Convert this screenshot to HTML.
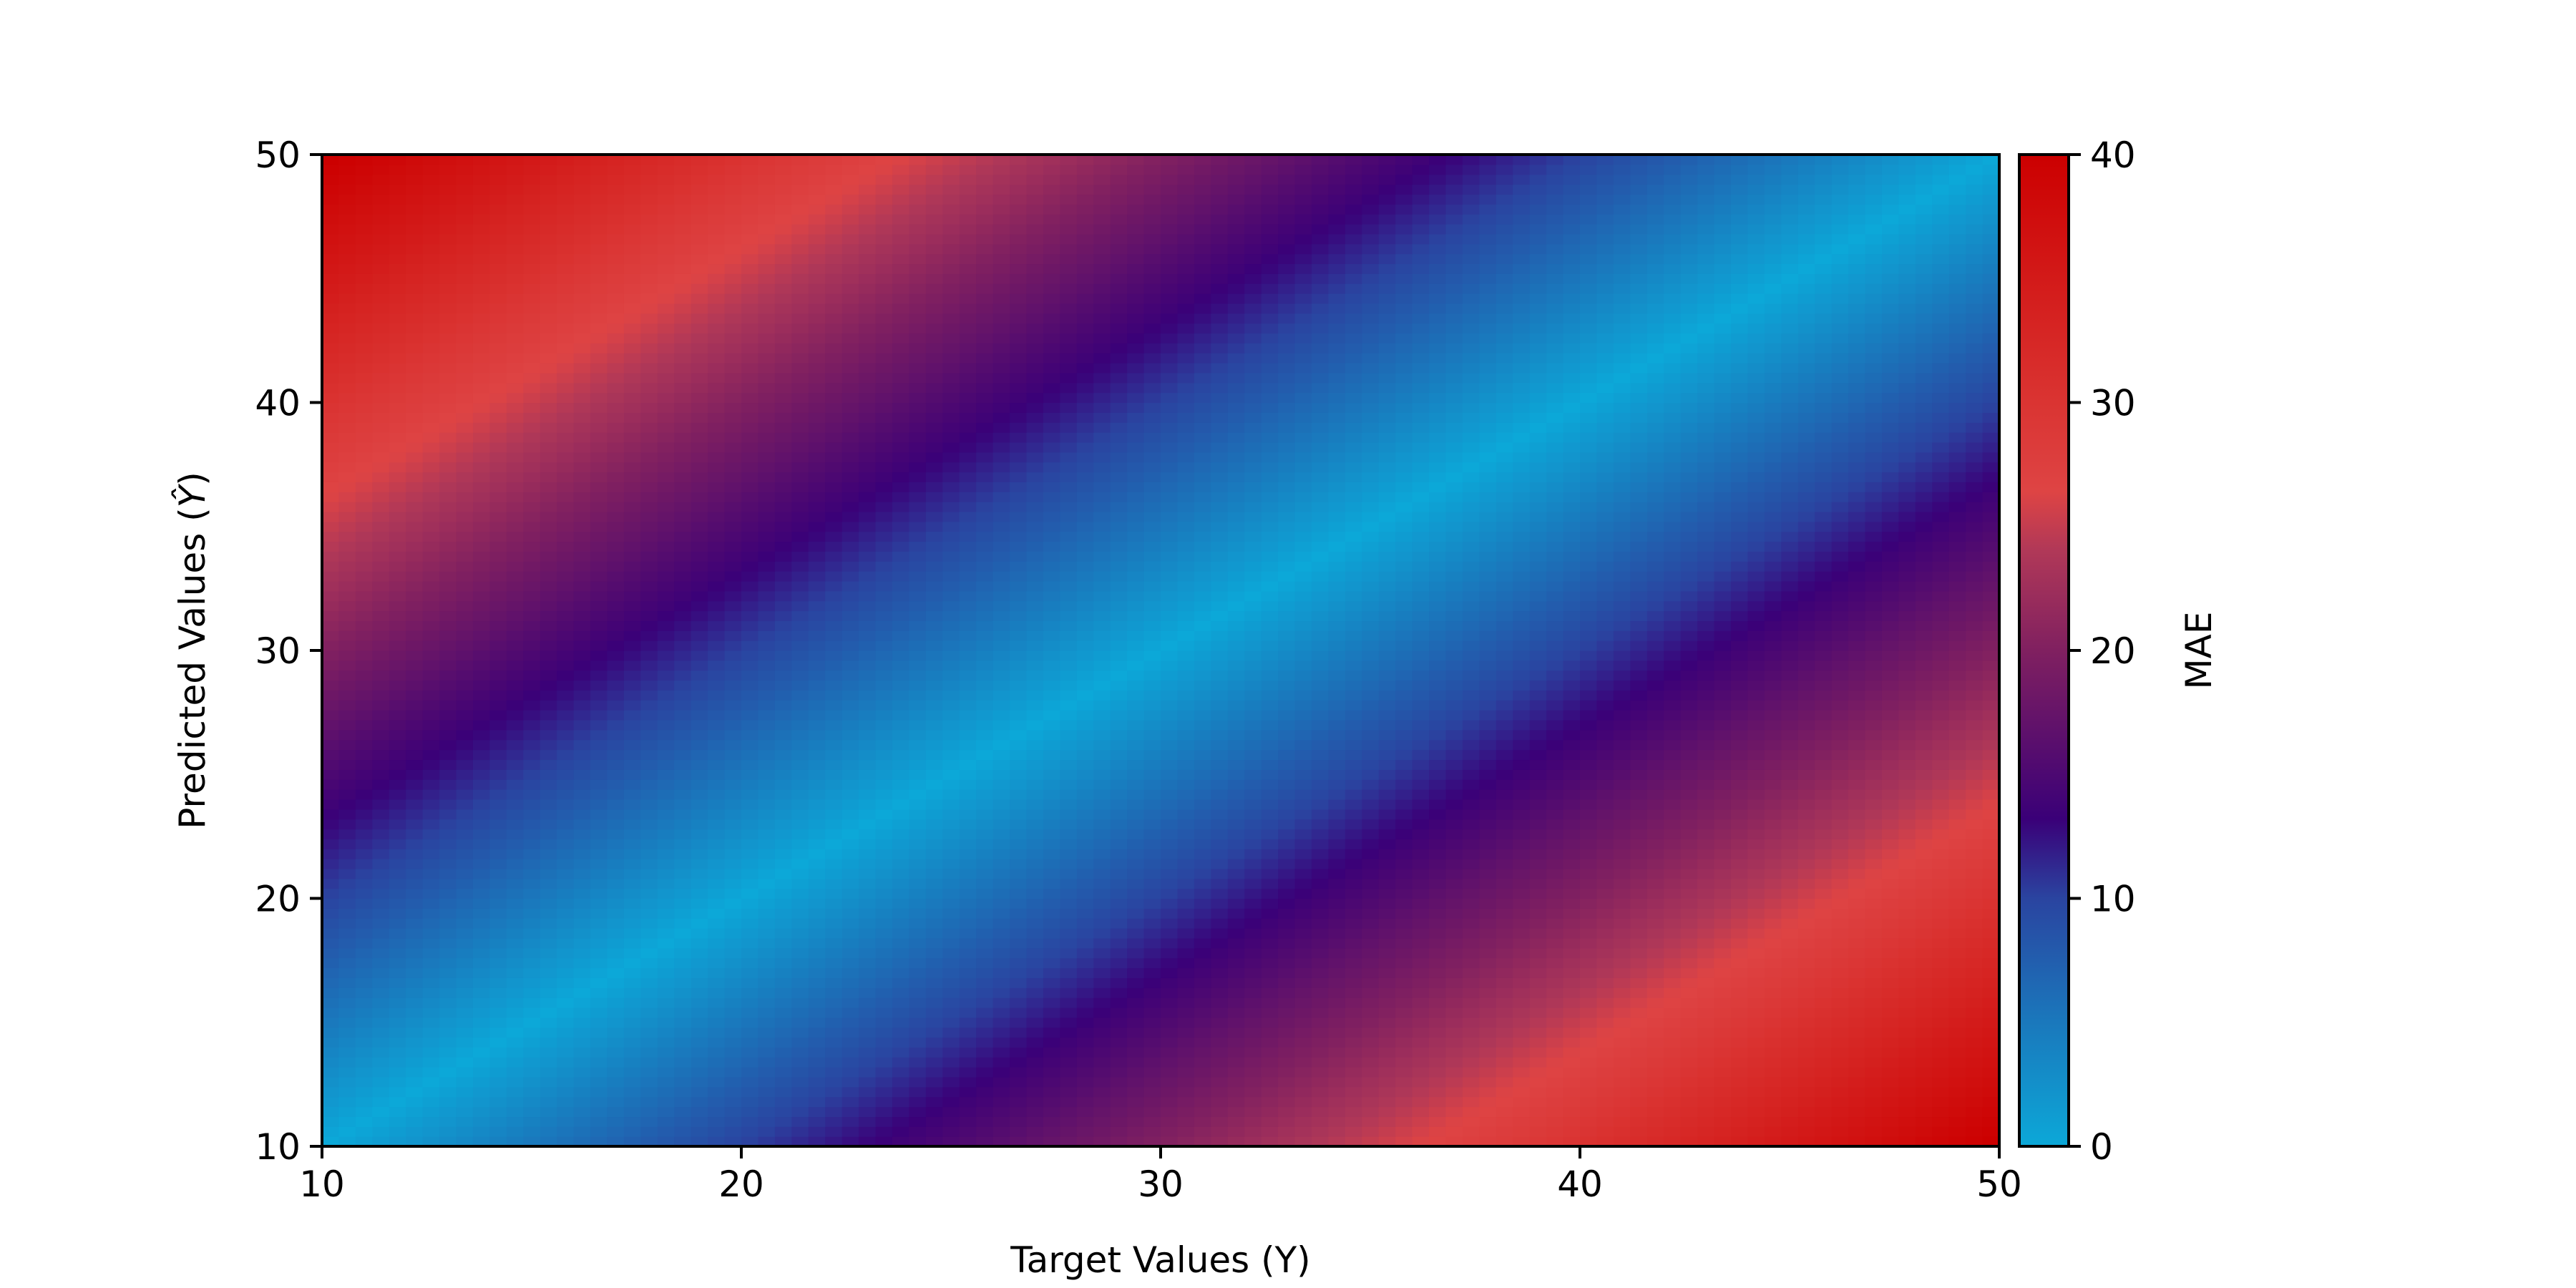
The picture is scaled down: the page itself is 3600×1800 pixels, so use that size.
<!DOCTYPE html>
<html><head><meta charset="utf-8"><style>
html,body{margin:0;padding:0;background:#fff}
svg{display:block}
text{font-family:"DejaVu Sans","Liberation Sans",sans-serif;font-size:50px;fill:#000}
</style></head><body>
<svg id="chart" width="3600" height="1800" viewBox="0 0 3600 1800" xmlns="http://www.w3.org/2000/svg">
<defs>
<linearGradient id="cbgrad" x1="0" y1="1" x2="0" y2="0">
<stop offset="0" stop-color="#0ca8d8"/>
<stop offset="0.125" stop-color="#1a78bc"/>
<stop offset="0.25" stop-color="#2a44a0"/>
<stop offset="0.33" stop-color="#3a0078"/>
<stop offset="0.5" stop-color="#802060"/>
<stop offset="0.6" stop-color="#b03858"/>
<stop offset="0.66" stop-color="#de4444"/>
<stop offset="0.75" stop-color="#da3432"/>
<stop offset="1" stop-color="#cc0000"/>
</linearGradient>
</defs>
<g id="cells"></g>
<rect x="450" y="216" width="2344" height="1386" fill="none" stroke="#000" stroke-width="4"/>
<g id="xticks"></g>
<g id="yticks"></g>
<text x="1622" y="1778" text-anchor="middle">Target Values (Y)</text>
<text transform="translate(286,909) rotate(-90)" text-anchor="middle">Predicted Values (<tspan font-style="italic">Ŷ</tspan>)</text>
<rect x="2822" y="216" width="69" height="1386" fill="url(#cbgrad)" stroke="#000" stroke-width="4"/>
<g id="cbticks"></g>
<text transform="translate(3090,909) rotate(-90)" text-anchor="middle">MAE</text>
</svg>
<script>
const targetRange = [10, 50];
const predictedRange = [10, 50];
const gridSize = 100;
const xTickLabels = [10, 20, 30, 40, 50];
const yTickLabels = [10, 20, 30, 40, 50];
const cbTickLabels = [0, 10, 20, 30, 40];
const maeRange = [0, 40];

const NS = "http://www.w3.org/2000/svg";
const PL = 450, PR = 2794, PT = 216, PB = 1602;
const CBL = 2822, CBR = 2891;
const xScale = v => PL + (v - targetRange[0]) / (targetRange[1] - targetRange[0]) * (PR - PL);
const yScale = v => PB - (v - predictedRange[0]) / (predictedRange[1] - predictedRange[0]) * (PB - PT);
const cScale = v => PB - (v - maeRange[0]) / (maeRange[1] - maeRange[0]) * (PB - PT);

const stops = [[0,[12,168,216]],[0.125,[26,120,188]],[0.25,[42,68,160]],[0.33,[58,0,120]],[0.5,[128,32,96]],[0.6,[176,56,88]],[0.66,[222,68,68]],[0.75,[218,52,50]],[1,[204,0,0]]];
function cmap(v){
  let t = Math.max(0, Math.min(1, (v - maeRange[0]) / (maeRange[1] - maeRange[0])));
  for (let i = 1; i < stops.length; i++) {
    if (t <= stops[i][0]) {
      const a = stops[i-1], b = stops[i], f = (t - a[0]) / (b[0] - a[0]);
      const c = a[1].map((x, k) => Math.round(x + (b[1][k] - x) * f));
      return `rgb(${c[0]},${c[1]},${c[2]})`;
    }
  }
  return "rgb(204,0,0)";
}

const cells = document.getElementById('cells');
const tVals = [], pVals = [];
for (let i = 0; i < gridSize; i++) {
  tVals.push(targetRange[0] + i * (targetRange[1] - targetRange[0]) / (gridSize - 1));
  pVals.push(predictedRange[0] + i * (predictedRange[1] - predictedRange[0]) / (gridSize - 1));
}
const cw = (PR - PL) / gridSize, ch = (PB - PT) / gridSize;
for (let j = 0; j < gridSize; j++) {
  for (let i = 0; i < gridSize; i++) {
    const mae = Math.abs(tVals[i] - pVals[j]);
    const r = document.createElementNS(NS, 'rect');
    
    
    r.setAttribute('x', (PL + i * cw).toFixed(2));
    r.setAttribute('y', (PB - (j + 1) * ch).toFixed(2));
    r.setAttribute('width', (cw + 0.6).toFixed(2));
    r.setAttribute('height', (ch + 0.6).toFixed(2));
    r.setAttribute('fill', cmap(mae));
    cells.appendChild(r);
  }
}

function line(g, x1, y1, x2, y2){
  const l = document.createElementNS(NS, 'line');
  
  
  l.setAttribute('x1', x1); l.setAttribute('y1', y1);
  l.setAttribute('x2', x2); l.setAttribute('y2', y2);
  l.setAttribute('stroke', '#000'); l.setAttribute('stroke-width', '4');
  g.appendChild(l);
}
function label(g, x, y, txt, anchor){
  const t = document.createElementNS(NS, 'text');
  
  
  t.setAttribute('x', x); t.setAttribute('y', y);
  t.setAttribute('text-anchor', anchor);
  t.textContent = txt;
  g.appendChild(t);
}
const xg = document.getElementById('xticks');
xTickLabels.forEach(v => { const x = xScale(v); line(xg, x, PB, x, PB + 17); label(xg, x, PB + 70, v, 'middle'); });
const yg = document.getElementById('yticks');
yTickLabels.forEach(v => { const y = yScale(v); line(yg, PL, y, PL - 17, y); label(yg, PL - 30, y + 18, v, 'end'); });
const cg = document.getElementById('cbticks');
cbTickLabels.forEach(v => { const y = cScale(v); line(cg, CBR, y, CBR + 17, y); label(cg, CBR + 30, y + 18, v, 'start'); });
</script>
</body></html>
